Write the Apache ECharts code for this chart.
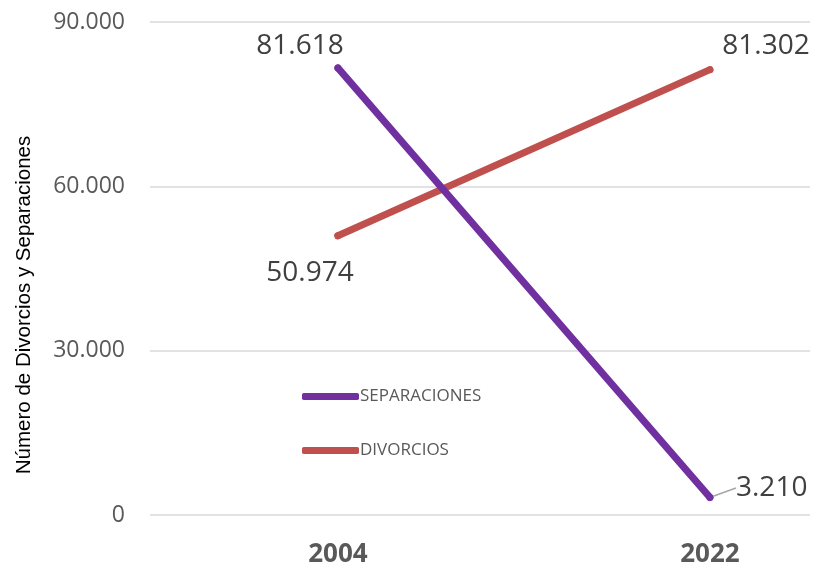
<!DOCTYPE html>
<html><head><meta charset="utf-8">
<script src="https://cdn.jsdelivr.net/npm/echarts@6/dist/echarts.min.js"></script>
<style>html,body{margin:0;padding:0;background:#fff}#c{width:813px;height:568px}</style>
</head><body><div id="c"></div>
<script>
const categories = ['2004', '2022'];
const separaciones = [81618, 3210];
const divorcios = [50974, 81302];
const yTicks = [0, 30000, 60000, 90000];
const yAxisTitle = 'Número de Divorcios y Separaciones';

function fmt(v){ return String(v).replace(/\B(?=(\d{3})+(?!\d))/g, '.'); }
const pts = (arr, leaderIdx) => arr.map((v, i) => ({ value: [i, v], labelLine: { show: i === leaderIdx } }));
const chart = echarts.init(document.getElementById('c'));
chart.setOption({
  animation: false,
  grid: { left: 150, right: 3, top: 22, bottom: 53 },
  graphic: [{
    type: 'text', x: 24, y: 305, rotation: Math.PI / 2,
    style: { text: yAxisTitle, fontFamily: 'Liberation Sans, Arial, sans-serif', fontSize: 20.5, fill: '#000', align: 'center', verticalAlign: 'middle' }
  }],
  xAxis: {
    type: 'value', min: -0.505, max: 1.269,
    axisLine: { show: false }, axisTick: { show: false }, splitLine: { show: false },
    axisLabel: {
      customValues: [0, 1], formatter: v => categories[Math.round(v)] || '',
      fontFamily: 'Open Sans, sans-serif', fontSize: 26, fontWeight: 'bold', color: '#595959', margin: 27
    }
  },
  yAxis: {
    type: 'value', min: 0, max: 90000, interval: 30000,
    axisLine: { show: false }, axisTick: { show: false },
    axisLabel: { customValues: yTicks, formatter: v => fmt(v), fontFamily: 'Open Sans, sans-serif', fontSize: 23, color: '#595959', margin: 25 },
    splitLine: { lineStyle: { color: '#d9d9d9', width: 1.5 } }
  },
  legend: {
    orient: 'vertical', left: 297, top: 383, itemGap: 37, itemWidth: 57, itemHeight: 7,
    icon: 'roundRect', textStyle: { fontFamily: 'Open Sans, sans-serif', fontSize: 17, color: '#595959', padding: [0, 0, 0, -4] },
    data: ['SEPARACIONES', 'DIVORCIOS']
  },
  series: [
    {
      name: 'SEPARACIONES', type: 'line', data: pts(separaciones, 1), symbol: 'circle', symbolSize: 7, showSymbol: true,
      lineStyle: { color: '#7030A0', width: 7, cap: 'round' }, itemStyle: { color: '#7030A0' },
      label: {
        show: true, position: 'top', formatter: p => fmt(p.value[1]), fontFamily: 'Open Sans, sans-serif', fontSize: 28, color: '#404040'
      },
      labelLine: { lineStyle: { color: '#a6a6a6', width: 1.5 } },
      labelLayout: function (p) {
        if (p.dataIndex === 0) return { x: 300, y: 46, align: 'center', verticalAlign: 'middle' };
        return { x: 736, y: 488, align: 'left', verticalAlign: 'middle' };
      },
      z: 3
    },
    {
      name: 'DIVORCIOS', type: 'line', data: pts(divorcios, -1), symbol: 'circle', symbolSize: 7, showSymbol: true,
      lineStyle: { color: '#C0504D', width: 7, cap: 'round' }, itemStyle: { color: '#C0504D' },
      label: {
        show: true, position: 'top', formatter: p => fmt(p.value[1]), fontFamily: 'Open Sans, sans-serif', fontSize: 28, color: '#404040'
      },
      labelLayout: function (p) {
        if (p.dataIndex === 0) return { x: 310, y: 273, align: 'center', verticalAlign: 'middle' };
        return { x: 766, y: 46, align: 'center', verticalAlign: 'middle' };
      },
      z: 2
    }
  ]
});
</script></body></html>
